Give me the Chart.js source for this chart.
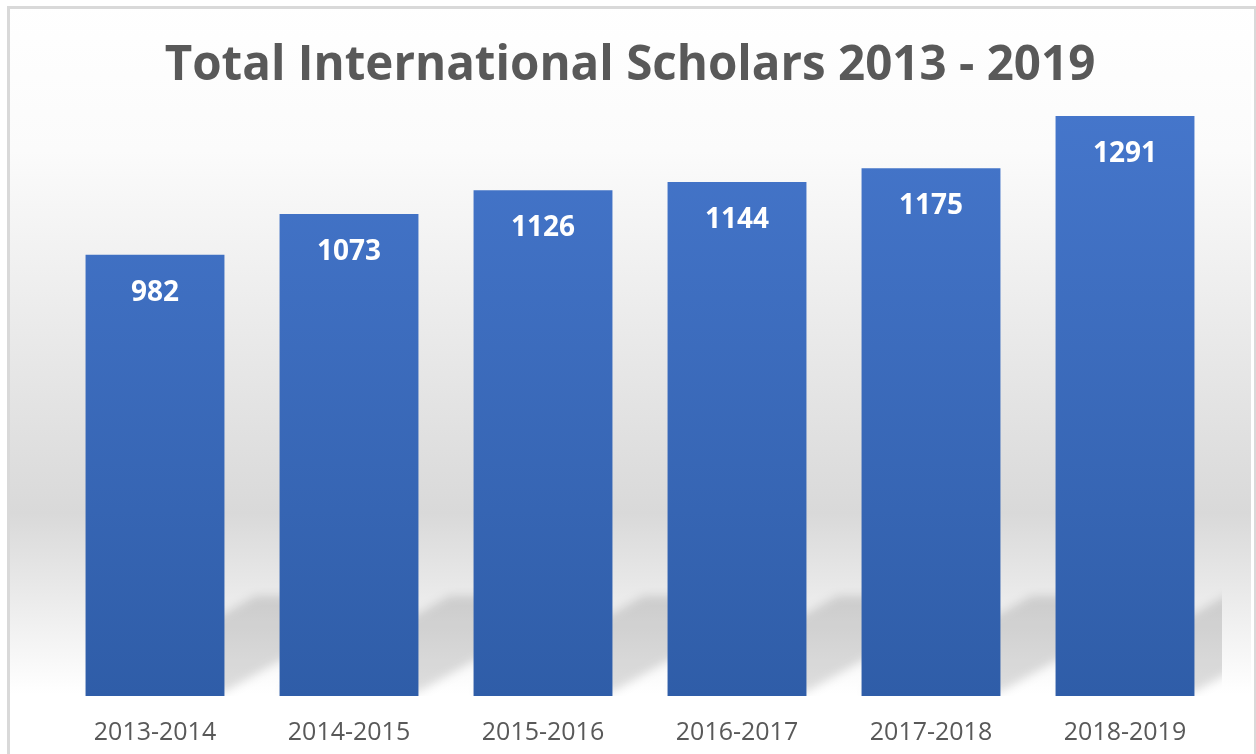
<!DOCTYPE html>
<html>
<head>
<meta charset="utf-8">
<script src="https://cdn.jsdelivr.net/npm/chart.js@4"></script>
<style>
  html, body { margin: 0; padding: 0; background: #fff; }
  #wrap { position: relative; width: 1256px; height: 754px; overflow: hidden; }
  #frame { position: absolute; left: 7px; top: 6px; width: 1244px; height: 800px;
           border: 3px solid #d9d9d9; pointer-events: none; }
</style>
</head>
<body>
<div id="wrap">
  <canvas id="scholarsChart" width="1256" height="754"></canvas>
  <div id="frame"></div>
</div>
<script>
const years = ["2013-2014", "2014-2015", "2015-2016", "2016-2017", "2017-2018", "2018-2019"];
const scholars = [982, 1073, 1126, 1144, 1175, 1291];

// soft grey band behind the plot, fading out at top and bottom
const backdrop = {
    id: "backdrop",
    beforeDraw(chart) {
        const { ctx, height } = chart;
        const g = ctx.createLinearGradient(0, 0, 0, height);
        g.addColorStop(0, "#ffffff");
        g.addColorStop(0.2, "#fbfbfb");
        g.addColorStop(0.68, "#d9d9d9");
        g.addColorStop(0.92, "#ffffff");
        g.addColorStop(1, "#ffffff");
        ctx.save();
        ctx.fillStyle = g;
        ctx.fillRect(9, 9, 1242, height);
        ctx.restore();
    },
    beforeDatasetsDraw(chart) {
        // slanted shadows cast by the bars
        const { ctx, chartArea } = chart;
        const meta = chart.getDatasetMeta(0);
        ctx.save();
        ctx.beginPath();
        ctx.rect(chartArea.left, chartArea.top, chartArea.right - chartArea.left, chartArea.bottom - chartArea.top);
        ctx.clip();
        ctx.filter = "blur(5px)";
        ctx.fillStyle = "rgba(0,0,0,0.13)";
        meta.data.forEach(bar => {
            const l = bar.x - bar.width / 2, r = bar.x + bar.width / 2, b = bar.base;
            ctx.beginPath();
            ctx.moveTo(l, b - 4);
            ctx.lineTo(r, b - 4);
            ctx.lineTo(r + 170, b - 100);
            ctx.lineTo(l + 170, b - 100);
            ctx.closePath();
            ctx.fill();
        });
        ctx.restore();
    },
    afterDatasetsDraw(chart) {
        const { ctx } = chart;
        const meta = chart.getDatasetMeta(0);
        ctx.save();
        ctx.fillStyle = "#ffffff";
        ctx.font = "bold 28px 'Open Sans'";
        ctx.textAlign = "center";
        ctx.textBaseline = "middle";
        meta.data.forEach((bar, i) => {
            ctx.fillText(String(scholars[i]), bar.x, bar.y + 38);
        });
        ctx.restore();
    }
};

const canvas = document.getElementById("scholarsChart");

new Chart(canvas, {
    type: "bar",
    data: {
        labels: years,
        datasets: [{
            label: "Scholars",
            data: scholars,
            backgroundColor: ctx => {
                const area = ctx.chart.chartArea;
                if (!area) return "#3f6fc0";
                const g = ctx.chart.ctx.createLinearGradient(0, area.top, 0, area.bottom);
                g.addColorStop(0, "#4576cb");
                g.addColorStop(1, "#2f5da8");
                return g;
            },
            borderWidth: 0,
            barPercentage: 0.716,
            categoryPercentage: 1
        }]
    },
    options: {
        responsive: false,
        animation: false,
        layout: { padding: { left: 38, right: 34, top: 0, bottom: -16 } },
        plugins: {
            legend: { display: false },
            tooltip: { enabled: false },
            title: {
                display: true,
                text: "Total International Scholars 2013 - 2019",
                color: "#595959",
                font: { family: "'Open Sans'", size: 47.5, weight: "bold" },
                padding: { top: 38, bottom: 17 }
            }
        },
        scales: {
            x: {
                grid: { display: false, drawTicks: false },
                border: { display: false },
                ticks: {
                    color: "#595959",
                    font: { family: "'Open Sans'", size: 25 },
                    padding: 22
                }
            },
            y: {
                min: 0,
                max: 1300,
                grid: { display: false, drawTicks: false },
                border: { display: false },
                ticks: { display: false },
                afterFit(scale) { scale.width = 20; }
            }
        }
    },
    plugins: [backdrop]
});
</script>
</body>
</html>
